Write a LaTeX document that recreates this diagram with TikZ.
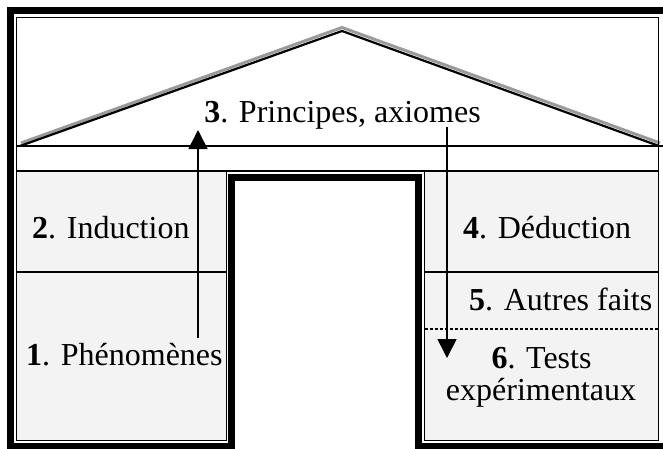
\documentclass[tikz,border=0pt]{standalone}
\usepackage{fontspec}
\setmainfont{Liberation Serif}
\usetikzlibrary{arrows.meta}
\definecolor{pillargray}{HTML}{F3F3F3}
\definecolor{roofshade}{HTML}{9A9A9A}
\begin{document}
\begin{tikzpicture}[x=1pt,y=-1pt,
  thickband/.style={line width=7pt, line join=miter},
  thinrule/.style={line width=1.4pt},
  roofline/.style={line width=2.2pt, line join=miter},
  txt/.style={font=\fontsize{32}{32}\selectfont, inner sep=0pt},
  flow/.style={line width=1.6pt, -{Triangle[width=19pt,length=19pt]}}]
\useasboundingbox (0,0) rectangle (663,448);
\clip (0,0) rectangle (663,448);

% pillars
\fill[pillargray] (16.75,171) rectangle (226.2,440.5);
\fill[pillargray] (424.5,171) rectangle (658.5,440.5);

% pediment: shaded roof edge, then black roof edge and its base line
\draw[roofshade, line width=3pt, line join=miter] (21,143) -- (342,27.5) -- (660,143);
\draw[roofline] (20,146) -- (342,31) -- (659,146);
\draw[line width=2pt] (16.75,146) -- (663,146);

% top of the pillars and the door lintel
\draw[thinrule] (16.75,171) -- (658.5,171);

% dividers inside the pillars
\draw[thinrule] (16.75,272) -- (226.2,272);
\draw[thinrule] (424.5,272) -- (658.5,272);
\draw[thinrule, dash pattern=on 3pt off 2pt] (424.5,329) -- (658.5,329);

% double frame: thin inner rule and thick outer band
\draw[thinrule] (16.75,17.5) -- (658.5,17.5) -- (658.5,440.5) -- (424.5,440.5)
  -- (424.5,171) -- (226.2,171) -- (226.2,440.5) -- (16.75,440.5) -- cycle;
\draw[thickband] (10.5,10.9) -- (680,10.9) -- (680,446.5) -- (418.5,446.5)
  -- (418.5,177.5) -- (231.5,177.5) -- (231.5,446.5) -- (10.5,446.5) -- cycle;

% labels
\node[txt, anchor=base] (principes) at (342.5,122) {\textbf{3}. Principes, axiomes};
\node[txt, anchor=base west] (induction) at (32,238) {\textbf{2}. Induction};
\node[txt, anchor=base west] (phenomenes) at (26,365) {\textbf{1}. Phénomènes};
\node[txt, anchor=base west] (deduction) at (463,238) {\textbf{4}. Déduction};
\node[txt, anchor=base west] (autres) at (469,310) {\textbf{5}. Autres faits};
\node[txt, anchor=base] (tests) at (541.5,368) {\textbf{6}. Tests};
\node[txt, anchor=base] (experim) at (541,400) {expérimentaux};

% induction upwards, deduction downwards
\coordinate (upFrom) at (198,338);
\coordinate (upTo) at (198,130);
\coordinate (downFrom) at (447,127);
\coordinate (downTo) at (447,358);
\draw[flow] (upFrom) -- (upTo);
\draw[flow] (downFrom) -- (downTo);
\end{tikzpicture}
\end{document}
